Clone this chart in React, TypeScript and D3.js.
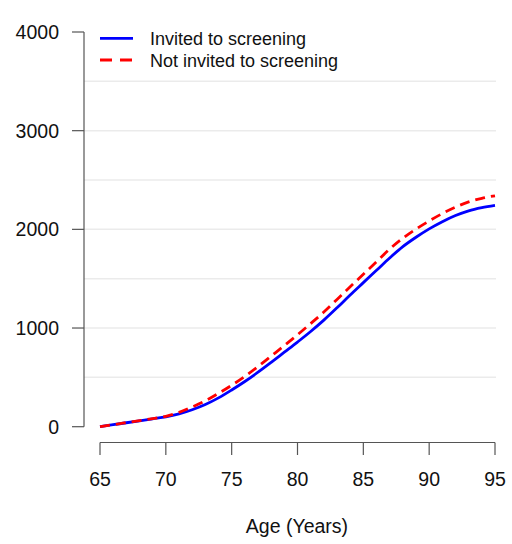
import React from "react";
import * as d3 from "d3";

// Cumulative counts by age
const ages = [65, 66, 67, 68, 69, 70, 71, 72, 73, 74, 75, 76, 77, 78, 79, 80, 81, 82, 83, 84, 85, 86, 87, 88, 89, 90, 91, 92, 93, 94, 95];
const invited = [0, 20, 40, 60, 80, 100, 130, 172, 225, 292, 372, 458, 552, 652, 755, 858, 965, 1080, 1205, 1335, 1460, 1585, 1710, 1825, 1920, 2005, 2078, 2140, 2188, 2220, 2243];
const notInvited = [0, 20, 41, 62, 82, 105, 145, 200, 262, 338, 420, 510, 610, 716, 822, 932, 1045, 1162, 1290, 1418, 1545, 1672, 1800, 1910, 2003, 2085, 2160, 2225, 2278, 2315, 2340];

const xTicks = [65, 70, 75, 80, 85, 90, 95];
const yTicks = [0, 1000, 2000, 3000, 4000];
const gridValues = [500, 1000, 1500, 2000, 2500, 3000, 3500];

const seriesNames = ["Invited to screening", "Not invited to screening"];
const seriesColors = ["#0000ff", "#ff0000"];

const W = 512;
const H = 544;
const FONT = "'Liberation Sans', Arial, Helvetica, sans-serif";

export default function App() {
  const x = d3.scaleLinear().domain([65, 95]).range([100, 495]);
  const y = d3.scaleLinear().domain([0, 4000]).range([426.7, 32]);

  const line = d3
    .line<number>()
    .x((_, i) => x(ages[i]))
    .y((v) => y(v))
    .curve(d3.curveMonotoneX);

  const axisColor = "#555";
  const xAxisY = 442.5;
  const yAxisX = 84;
  const axisFont = 19.5;

  return (
    <svg
      width={W}
      height={H}
      style={{ position: "absolute", left: 0, top: 0, background: "#fff" }}
      fontFamily={FONT}
    >
      {/* horizontal grid */}
      {gridValues.map((g) => (
        <line key={g} x1={yAxisX} x2={496} y1={y(g)} y2={y(g)} stroke="#ebebeb" strokeWidth={1.5} />
      ))}

      {/* y axis */}
      <line x1={yAxisX} x2={yAxisX} y1={y(0)} y2={y(4000)} stroke={axisColor} strokeWidth={1.2} />
      {yTicks.map((t) => (
        <g key={t}>
          <line x1={72} x2={yAxisX} y1={y(t)} y2={y(t)} stroke={axisColor} strokeWidth={1.2} />
          <text x={59} y={y(t)} dy="0.36em" textAnchor="end" fontSize={axisFont} fill="#111">
            {t}
          </text>
        </g>
      ))}

      {/* x axis */}
      <line x1={x(65)} x2={x(95)} y1={xAxisY} y2={xAxisY} stroke={axisColor} strokeWidth={1.2} />
      {xTicks.map((t) => (
        <g key={t}>
          <line x1={x(t)} x2={x(t)} y1={xAxisY} y2={455} stroke={axisColor} strokeWidth={1.2} />
          <text x={x(t)} y={486} textAnchor="middle" fontSize={axisFont} fill="#111">
            {t}
          </text>
        </g>
      ))}
      <text x={297} y={533} textAnchor="middle" fontSize={axisFont} fill="#111">
        Age (Years)
      </text>

      {/* series */}
      <path d={line(invited) ?? ""} fill="none" stroke={seriesColors[0]} strokeWidth={2.8} />
      <path
        d={line(notInvited) ?? ""}
        fill="none"
        stroke={seriesColors[1]}
        strokeWidth={2.8}
        strokeDasharray="10 6"
      />

      {/* legend */}
      <line x1={100} x2={133} y1={38.3} y2={38.3} stroke={seriesColors[0]} strokeWidth={2.8} />
      <text x={150} y={45} fontSize={18} fill="#111">
        {seriesNames[0]}
      </text>
      <line x1={100} x2={133} y1={60} y2={60} stroke={seriesColors[1]} strokeWidth={2.8} strokeDasharray="12 8" />
      <text x={150} y={67} fontSize={18} fill="#111">
        {seriesNames[1]}
      </text>
    </svg>
  );
}
